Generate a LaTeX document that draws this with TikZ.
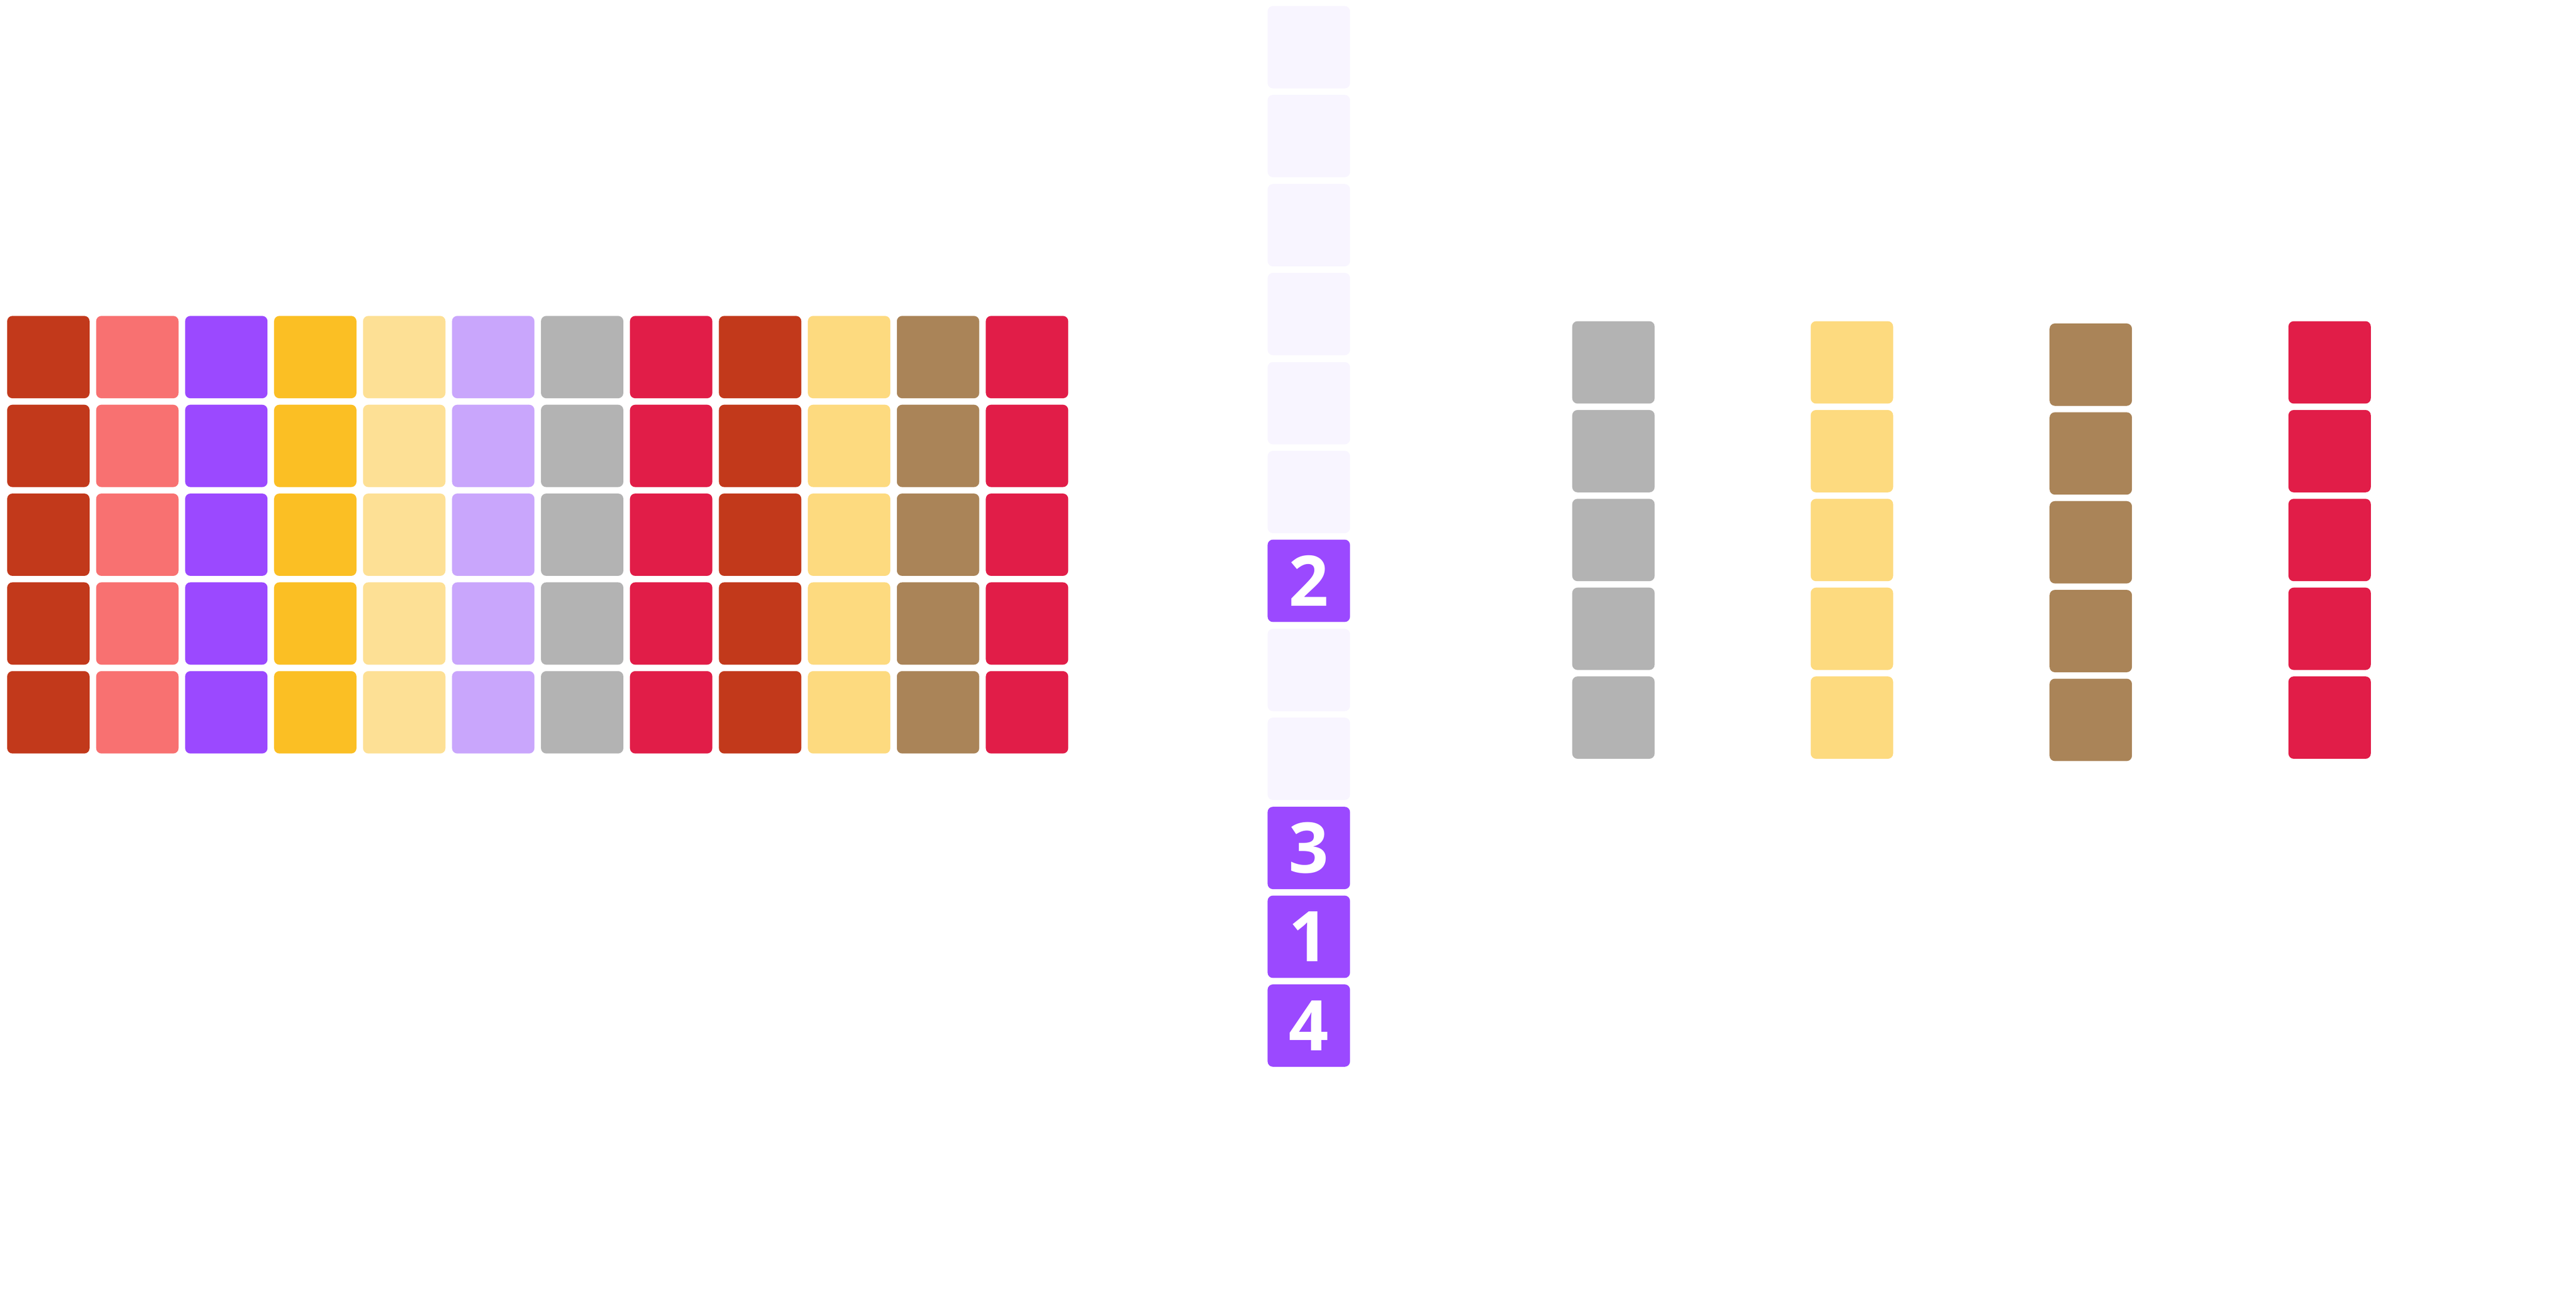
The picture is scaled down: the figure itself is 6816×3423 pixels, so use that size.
\documentclass[tikz,border=0pt]{standalone}
\usepackage{fontspec}
\setmainfont{Open Sans}
\usepackage{tikz}

\definecolor{cRust}{HTML}{C2391B}
\definecolor{cSalmon}{HTML}{F87171}
\definecolor{cPurple}{HTML}{9B49FF}
\definecolor{cAmber}{HTML}{FBBF24}
\definecolor{cCream}{HTML}{FDE095}
\definecolor{cLilac}{HTML}{C9A6FC}
\definecolor{cGrey}{HTML}{B3B3B3}
\definecolor{cCrimson}{HTML}{E11D48}
\definecolor{cSand}{HTML}{FDDA7F}
\definecolor{cBrown}{HTML}{AA8458}
\definecolor{cMist}{HTML}{F8F5FF}

\begin{document}
\begin{tikzpicture}[x=0.1pt,y=-0.1pt]
\newcommand{\csize}{21.8pt}
\useasboundingbox (0,0) rectangle (6816,3423);
\begin{scope}[shape=rectangle]
\tikzstyle{every node}=[fill,rounded corners=1.4pt,minimum size=\csize,inner sep=0pt]
\tikzstyle{marked}=[fill=cPurple,text=white,font=\bfseries\fontsize{18.5pt}{20pt}\selectfont]
% colour grid
\foreach \c/\clr in {0/cRust,1/cSalmon,2/cPurple,3/cAmber,4/cCream,5/cLilac,
                     6/cGrey,7/cCrimson,8/cRust,9/cSand,10/cBrown,11/cCrimson}
  \foreach \r in {0,...,4}
    \node[fill=\clr] (G_\c_\r) at ({128+235.4*\c},{945+235*\r}) {};
% middle column
\node[fill=cMist] (M_0) at (3463,125) {};
\node[fill=cMist] (M_1) at (3463,360) {};
\node[fill=cMist] (M_2) at (3463,596) {};
\node[fill=cMist] (M_3) at (3463,831) {};
\node[fill=cMist] (M_4) at (3463,1067) {};
\node[fill=cMist] (M_5) at (3463,1302) {};
\node[marked] (M_6) at (3463,1537) {2};
\node[fill=cMist] (M_7) at (3463,1773) {};
\node[fill=cMist] (M_8) at (3463,2008) {};
\node[marked] (M_9) at (3463,2244) {3};
\node[marked] (M_10) at (3463,2479) {1};
\node[marked] (M_11) at (3463,2714) {4};
% right columns
\foreach \k/\x/\y/\clr in {0/4269/959/cGrey,1/4900/959/cSand,2/5532/965/cBrown,3/6164/959/cCrimson}
  \foreach \r in {0,...,4}
    \node[fill=\clr] (R_\k_\r) at (\x,{\y+235*\r}) {};
\end{scope}
\end{tikzpicture}
\end{document}
